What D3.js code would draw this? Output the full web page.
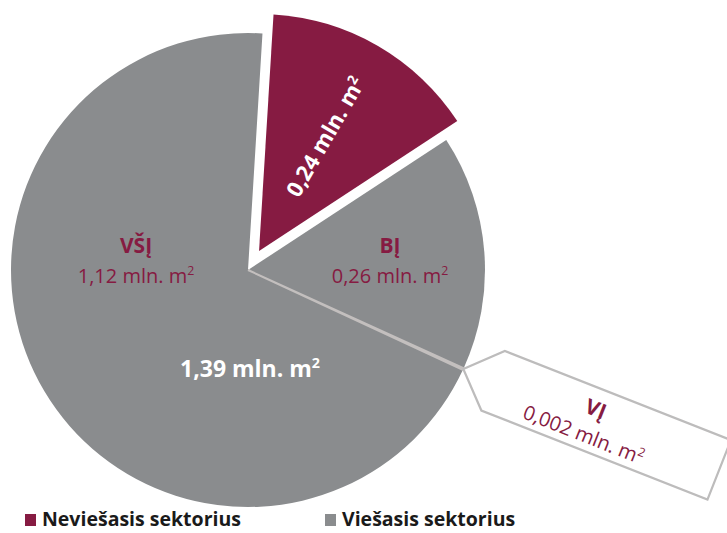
<!DOCTYPE html>
<html>
<head>
<meta charset="utf-8">
<script src="https://cdn.jsdelivr.net/npm/d3@7"></script>
<style>
  body { margin: 0; background: #fff; }
  svg { display: block; font-family: "Open Sans", sans-serif; }
</style>
</head>
<body>
<svg id="chart" width="727" height="533"></svg>
<script>
// slice data (mln. m2), in drawing order clockwise
const categories = ["Neviešasis sektorius", "BĮ", "VĮ", "VŠĮ"];
const values = [0.24, 0.26, 0.002, 1.12];
const valueText = ["0,24", "0,26", "0,002", "1,12"];
const publicTotalText = "1,39";
const legendLabels = ["Neviešasis sektorius", "Viešasis sektorius"];

const red = "#861b42", gray = "#8a8c8e";

const svg = d3.select("#chart");
const cx = 248, cy = 270, radius = 237;
const g = svg.append("g").attr("transform", "translate(" + cx + "," + cy + ")");

const pie = d3.pie().sort(null).value(d => d)
  .startAngle(3.5 * Math.PI / 180)
  .endAngle(3.5 * Math.PI / 180 + 2 * Math.PI);
const arcs = pie(values);
const arc = d3.arc().innerRadius(0).outerRadius(radius);

const mid = d => (d.startAngle + d.endAngle) / 2;
const polar = (a, r) => [Math.sin(a) * r, -Math.cos(a) * r];

// gray (public sector) slices
g.selectAll(".gray")
  .data(arcs.slice(1))
  .enter().append("path")
  .attr("class", "gray")
  .attr("fill", gray)
  .attr("d", arc);

// the tiny VĮ slice gets light outlines
g.append("path")
  .attr("fill", gray)
  .attr("stroke", "#c3bfbe")
  .attr("stroke-width", 2)
  .attr("d", arc(arcs[2]));

// exploded red slice
const explode = 22;
const off = polar(mid(arcs[0]), explode);
g.append("path")
  .attr("fill", red)
  .attr("transform", "translate(" + off[0] + "," + off[1] + ")")
  .attr("d", arc(arcs[0]));

// superscript helper
function label(sel, txt, size, weight, color) {
  const t = sel.append("text")
    .attr("text-anchor", "middle")
    .attr("font-size", size)
    .attr("font-weight", weight)
    .attr("fill", color);
  t.append("tspan").text(txt + " mln. m");
  t.append("tspan").attr("dy", -size * 0.38).attr("font-size", size * 0.62).text("2");
  return t;
}

// red slice label, rotated along the slice
const rp = polar(mid(arcs[0]), 132 + explode);
const rl = g.append("g")
  .attr("transform", "translate(" + rp[0] + "," + rp[1] + ") rotate(" + (mid(arcs[0]) * 180 / Math.PI - 90) + ")");
label(rl, valueText[0], 22, 700, "#fff").attr("y", 8);

// VŠĮ and BĮ labels
const inner = [
  { i: 3, x: -112, y: -17 },
  { i: 1, x: 142, y: -17 }
];
inner.forEach(p => {
  g.append("text")
    .attr("x", p.x).attr("y", p.y)
    .attr("text-anchor", "middle")
    .attr("font-size", 21).attr("font-weight", 700)
    .attr("fill", red)
    .text(categories[p.i]);
  label(g, valueText[p.i], 20, 400, red).attr("transform", "translate(" + p.x + "," + (p.y + 30) + ")");
});

// total of public sector
label(g, publicTotalText, 23, 700, "#fff").attr("transform", "translate(2,107)");

// VĮ callout
const tipA = mid(arcs[2]);
const tip = polar(tipA, radius);
const boxAngle = 21.5, boxW = 243, boxH = 64, notch = 32;
const call = g.append("g")
  .attr("transform", "translate(" + tip[0] + "," + tip[1] + ") rotate(" + boxAngle + ") translate(" + notch + "," + (-boxH / 2) + ")");
call.append("polygon")
  .attr("points", [[-notch, boxH / 2], [0, 0], [boxW, 0], [boxW, boxH], [0, boxH]].map(p => p.join(",")).join(" "))
  .attr("fill", "#fff")
  .attr("stroke", "#bdbcbc")
  .attr("stroke-width", 2.2);
call.append("text")
  .attr("x", 106).attr("y", 28)
  .attr("text-anchor", "middle")
  .attr("font-size", 21).attr("font-weight", 700)
  .attr("fill", red)
  .text(categories[2]);
label(call, valueText[2], 20, 400, red).attr("transform", "translate(104,56)");

// legend
const legend = svg.append("g").attr("transform", "translate(25,526)");
const li = legend.selectAll("g")
  .data(legendLabels)
  .enter().append("g")
  .attr("transform", (d, i) => "translate(" + (i * 300) + ",0)");
li.append("rect")
  .attr("x", 0).attr("y", -12)
  .attr("width", 11).attr("height", 12)
  .attr("fill", (d, i) => i === 0 ? red : gray);
li.append("text")
  .attr("x", 17).attr("y", 0)
  .attr("font-size", 19.5).attr("font-weight", 700)
  .attr("fill", "#1a1a1a")
  .text(d => d);
</script>
</body>
</html>
